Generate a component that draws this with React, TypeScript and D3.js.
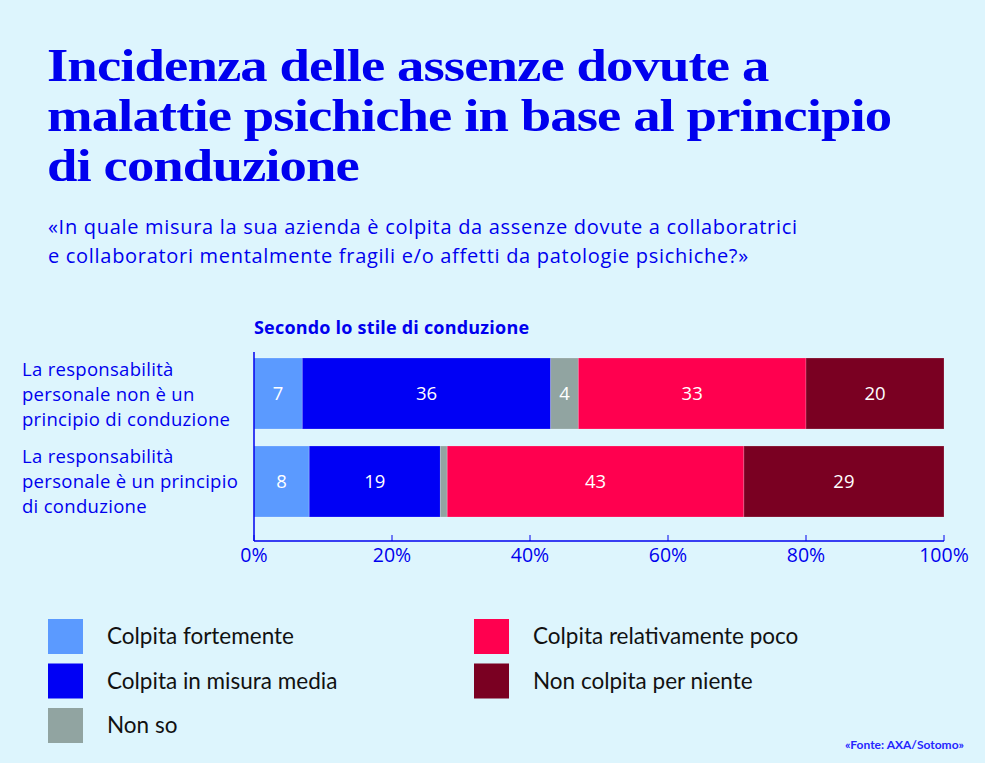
import React from "react";
import * as d3 from "d3";

const categories = [
  "La responsabilità personale non è un principio di conduzione",
  "La responsabilità personale è un principio di conduzione",
];
const categoryLines = [
  ["La responsabilità", "personale non è un", "principio di conduzione"],
  ["La responsabilità", "personale è un principio", "di conduzione"],
];
const seriesNames = [
  "Colpita fortemente",
  "Colpita in misura media",
  "Non so",
  "Colpita relativamente poco",
  "Non colpita per niente",
];
const seriesColors = ["#5b9aff", "#0000f5", "#91a4a1", "#ff004f", "#7a0022"];
const colpitaFortemente = [7, 8];
const colpitaMedia = [36, 19];
const nonSo = [4, 1];
const colpitaPoco = [33, 43];
const nonColpita = [20, 29];
const ticks = [0, 20, 40, 60, 80, 100];

const titleLines = [
  "Incidenza delle assenze dovute a",
  "malattie psichiche in base al principio",
  "di conduzione",
];
const subtitleLines = [
  "«In quale misura la sua azienda è colpita da assenze dovute a collaboratrici",
  "e collaboratori mentalmente fragili e/o affetti da patologie psichiche?»",
];

const W = 985;
const H = 763;
const BLUE = "#0000ee";
const SANS = "'Open Sans', sans-serif";
const NARROW = "Lato, sans-serif";

export default function App() {
  const x = d3.scaleLinear().domain([0, 100]).range([254, 944]);
  const y = d3
    .scaleBand<string>()
    .domain(categories)
    .range([358, 517])
    .paddingInner(0.193)
    .paddingOuter(0);

  const table = categories.map((c, i) => ({
    cat: c,
    [seriesNames[0]]: colpitaFortemente[i],
    [seriesNames[1]]: colpitaMedia[i],
    [seriesNames[2]]: nonSo[i],
    [seriesNames[3]]: colpitaPoco[i],
    [seriesNames[4]]: nonColpita[i],
  }));
  const stacked = d3.stack<any>().keys(seriesNames)(table);
  const color = d3.scaleOrdinal<string, string>().domain(seriesNames).range(seriesColors);

  const axisY = 541;

  return (
    <svg
      width={W}
      height={H}
      style={{ position: "absolute", left: 0, top: 0, background: "#ddf5fd" }}
    >
      <rect width={W} height={H} fill="#ddf5fd" />
      <g transform="translate(47,0) scale(1.165,1)">
        {titleLines.map((t, i) => (
          <text
            key={t}
            x={0}
            y={81 + i * 50}
            fill={BLUE}
            fontFamily="'Liberation Serif', serif"
            fontWeight={700}
            fontSize={47}
            letterSpacing={-0.8}
          >
            {t}
          </text>
        ))}
      </g>
      {subtitleLines.map((t, i) => (
        <text
          key={t}
          x={48}
          y={234 + i * 29}
          fill={BLUE}
          fontFamily={SANS}
          fontSize={20}
          letterSpacing={0.7}
        >
          {t}
        </text>
      ))}
      <text
        x={254}
        y={334}
        fill={BLUE}
        fontFamily={SANS}
        fontWeight={700}
        fontSize={18}
        letterSpacing={0.2}
      >
        Secondo lo stile di conduzione
      </text>

      {categoryLines.map((lines, i) => {
        const cy = (y(categories[i]) as number) + y.bandwidth() / 2;
        return lines.map((l, j) => (
          <text
            key={i + "-" + j}
            x={22}
            y={cy + 7 + (j - 1) * 25}
            fill={BLUE}
            fontFamily={SANS}
            fontSize={18.5}
            letterSpacing={0.3}
          >
            {l}
          </text>
        ));
      })}

      {stacked.map((s) => (
        <g key={s.key}>
          {s.map((d, i) => {
            const x0 = x(d[0]);
            const x1 = x(d[1]);
            const yy = y(categories[i]) as number;
            const v = d[1] - d[0];
            return (
              <g key={i}>
                <rect
                  x={x0}
                  y={yy}
                  width={x1 - x0}
                  height={y.bandwidth()}
                  fill={color(s.key)}
                  stroke="#ffffff"
                  strokeOpacity={0.25}
                  strokeWidth={0.8}
                />
                {v >= 3 && (
                  <text
                    x={(x0 + x1) / 2}
                    y={yy + y.bandwidth() / 2}
                    dy="0.36em"
                    textAnchor="middle"
                    fill="#ffffff"
                    fontFamily={SANS}
                    fontSize={18.5}
                  >
                    {v}
                  </text>
                )}
              </g>
            );
          })}
        </g>
      ))}

      <line x1={254} x2={254} y1={352} y2={axisY} stroke={BLUE} strokeWidth={1.5} />
      <line x1={254} x2={944} y1={axisY} y2={axisY} stroke={BLUE} strokeWidth={1.5} />
      {ticks.map((t) => (
        <g key={t}>
          <line x1={x(t)} x2={x(t)} y1={axisY - 6} y2={axisY} stroke={BLUE} strokeWidth={1} />
          <text
            x={x(t)}
            y={562}
            textAnchor="middle"
            fill={BLUE}
            fontFamily={SANS}
            fontSize={19.5}
          >
            {t + "%"}
          </text>
        </g>
      ))}

      {seriesNames.map((n, i) => {
        const col = i < 3 ? 0 : 1;
        const row = i < 3 ? i : i - 3;
        const lx = col === 0 ? 48 : 474;
        const ly = 619 + row * 44.5;
        return (
          <g key={n}>
            <rect x={lx} y={ly} width={35} height={35} fill={color(n)} />
            <text
              x={lx + 59}
              y={ly + 25}
              fill="#111111"
              fontFamily={NARROW}
              fontSize={22.5}
            >
              {n}
            </text>
          </g>
        );
      })}

      <text
        x={964}
        y={749}
        textAnchor="end"
        fill="#2525ff"
        fontFamily={NARROW}
        fontWeight={700}
        fontSize={12}
      >
        «Fonte: AXA/Sotomo»
      </text>
    </svg>
  );
}
